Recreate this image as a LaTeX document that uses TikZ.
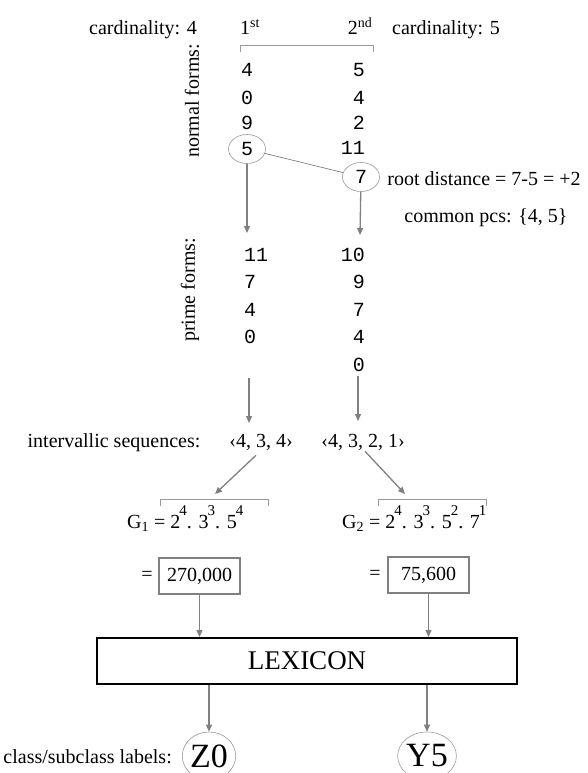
\documentclass[tikz,border=0pt]{standalone}
\usepackage{fontspec}
\setmainfont{Liberation Serif}
\setmonofont{Liberation Mono}
\usetikzlibrary{arrows.meta,shapes.geometric}

\tikzset{
  txt/.style={font=\fontsize{20}{24}\selectfont, inner sep=0pt},
  num/.style={font=\fontsize{20}{24}\selectfont\ttfamily, inner sep=0pt},
  flow/.style={draw=gray, line width=1.3pt, -{Triangle[length=7pt,width=6pt]}},
  root/.style={ellipse, draw=gray!80, line width=0.6pt, minimum width=37pt, minimum height=29pt, inner sep=0pt, font=\fontsize{20}{24}\selectfont\ttfamily},
  brk/.style={draw=gray!80, line width=0.8pt},
  valbox/.style={draw=gray, line width=1.4pt, minimum width=81pt, minimum height=36pt, inner sep=0pt, font=\fontsize{20}{24}\selectfont},
  lbl/.style={ellipse, draw=gray!80, line width=0.6pt, minimum width=50pt, minimum height=48pt, inner sep=0pt, font=\fontsize{34}{38}\selectfont}
}
\newcommand{\ex}[1]{\kern-1pt\raisebox{0.62em}{\fontsize{15}{15}\selectfont #1}}

\begin{document}
\begin{tikzpicture}[x=1pt,y=-1pt]
\useasboundingbox (0,0) rectangle (587,773);

% heading
\node[txt, anchor=base] (card4) at (143,35) {cardinality: 4};
\node[txt, anchor=base] (first) at (250,35) {1\textsuperscript{st}};
\node[txt, anchor=base] (second) at (360,35) {2\textsuperscript{nd}};
\node[txt, anchor=base] (card5) at (446,35) {cardinality: 5};
\draw[brk] (240,52) -- (240,45) -- (373,45) -- (373,52);

% normal forms
\node[txt, rotate=90] (nforms) at (192,101) {normal forms:};
\node[num, anchor=west] (nl1) at (241,70) {4};
\node[num, anchor=west] (nl2) at (241,98) {0};
\node[num, anchor=west] (nl3) at (241,123) {9};
\node[root] (c5) at (247,149) {5};
\node[num, anchor=east] (nr1) at (365,70) {5};
\node[num, anchor=east] (nr2) at (365,98) {4};
\node[num, anchor=east] (nr3) at (365,123) {2};
\node[num, anchor=east] (nr4) at (365,148) {11};
\node[root] (c7) at (361,177) {7};
\draw[gray, line width=0.7pt] (c5) -- (c7);
\node[txt, anchor=base] (rdist) at (484,185) {root distance = 7-5 = +2};
\node[txt, anchor=base] (cpcs) at (486,222) {common pcs: \{4, 5\}};

\coordinate (pa1) at (247,233);
\coordinate (pa2) at (360,235);
\draw[flow] (c5) -- (pa1);
\draw[flow] (c7) -- (pa2);

% prime forms
\node[txt, rotate=90] (pforms) at (190,290) {prime forms:};
\node[num, anchor=west] (pl1) at (244,255) {11};
\node[num, anchor=west] (pl2) at (244,282) {7};
\node[num, anchor=west] (pl3) at (244,310) {4};
\node[num, anchor=west] (pl4) at (244,337) {0};
\node[num, anchor=east] (pr1) at (365,255) {10};
\node[num, anchor=east] (pr2) at (365,282) {9};
\node[num, anchor=east] (pr3) at (365,310) {7};
\node[num, anchor=east] (pr4) at (365,337) {4};
\node[num, anchor=east] (pr5) at (365,365) {0};

\coordinate (pa3) at (249,378);
\coordinate (pa4) at (249,423);
\coordinate (pa5) at (358,376);
\coordinate (pa6) at (358,421);
\draw[flow] (pa3) -- (pa4);
\draw[flow] (pa5) -- (pa6);

% intervallic sequences
\node[txt, anchor=base] (iseq) at (114,447) {intervallic sequences:};
\node[txt, anchor=base] (iv1) at (261,447) {‹4, 3, 4›};
\node[txt, anchor=base] (iv2) at (363,447) {‹4, 3, 2, 1›};

\coordinate (g1tip) at (215,494);
\coordinate (g2tip) at (405,494);
\draw[flow] ([xshift=-5pt,yshift=-5pt]iv1.south) -- (g1tip);
\draw[flow] ([xshift=2pt,yshift=-1pt]iv2.south) -- (g2tip);

\draw[brk] (160,506) -- (160,499) -- (268,499) -- (268,506);
\draw[brk] (378,506) -- (378,499) -- (486,499) -- (486,506);

\node[txt, anchor=base west] (g1) at (127,528) {G\textsubscript{1} = 2\ex{4}. 3\ex{3}. 5\ex{4}};
\node[txt, anchor=base west] (g2) at (342,528) {G\textsubscript{2} = 2\ex{4}. 3\ex{3}. 5\ex{2}. 7\ex{1}};

% values
\node[txt] (eq1) at (147,576) {=};
\node[valbox] (v1) at (199.5,576) {270,000};
\node[txt] (eq2) at (375,575) {=};
\node[valbox] (v2) at (428.5,575) {75,600};

% lexicon
\node[draw=black, line width=2pt, minimum width=420pt, minimum height=46pt, inner sep=0pt,
      font=\fontsize{27}{30}\selectfont] (lex) at (307,661) {LEXICON};
\draw[flow] (v1) -- (v1 |- lex.north);
\draw[flow] (v2) -- (v2 |- lex.north);

% labels
\node[lbl] (z0) at (209,756) {Z0};
\node[lbl] (y5) at (427,756) {Y5};
\draw[flow] (lex.south -| z0) -- (z0);
\draw[flow] (lex.south -| y5) -- (y5);
\node[txt, anchor=base east] (clbl) at (172,763) {class/subclass labels:};
\end{tikzpicture}
\end{document}
